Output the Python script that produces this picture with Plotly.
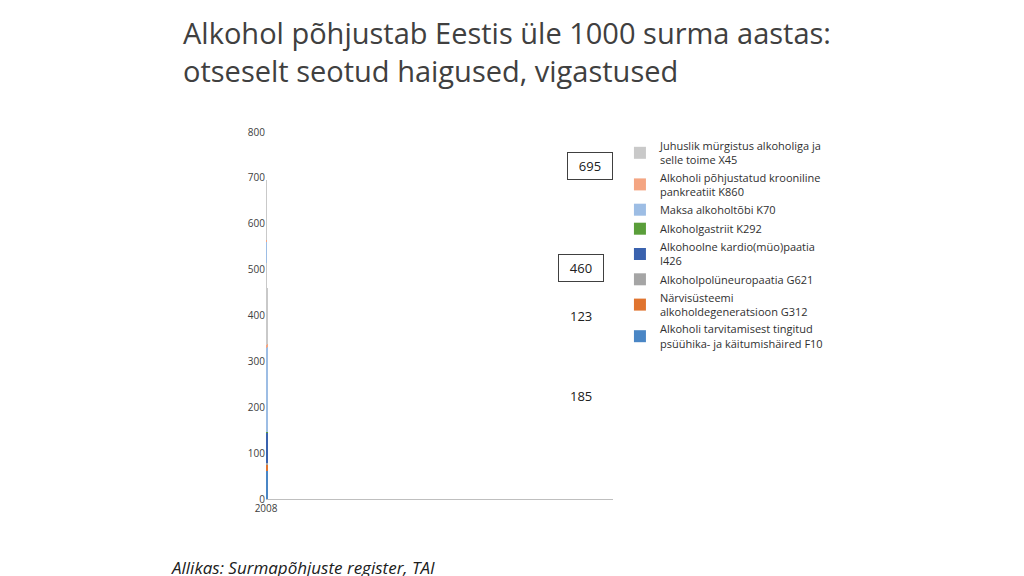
import plotly.graph_objects as go

years = ["2008", "2009", "2010", "2011", "2012", "2013", "2014"]
f10 = [155, 115, 88, 95, 100, 68, 60]
g312 = [20, 13, 7, 20, 18, 22, 15]
g621 = [2, 4, 7, 3, 2, 3, 3]
i426 = [133, 93, 93, 72, 80, 64, 68]
k292 = [1, 1, 1, 1, 1, 1, 1]
k70 = [251, 171, 199, 164, 151, 172, 184]
k860 = [3, 5, 5, 5, 5, 5, 6]
x45 = [130, 113, 98, 125, 146, 108, 123]

series = [
    ("Alkoholi tarvitamisest tingitud<br>psüühika- ja käitumishäired F10", f10, "#4a86c5"),
    ("Närvisüsteemi<br>alkoholdegeneratsioon G312", g312, "#e0742f"),
    ("Alkoholpolüneuropaatia G621", g621, "#a5a5a5"),
    ("Alkohoolne kardio(müo)paatia<br>I426", i426, "#3a62ae"),
    ("Alkoholgastriit K292", k292, "#5a9e3a"),
    ("Maksa alkoholtõbi K70", k70, "#9dbde4"),
    ("Alkoholi põhjustatud krooniline<br>pankreatiit K860", k860, "#f4a582"),
    ("Juhuslik mürgistus alkoholiga ja<br>selle toime X45", x45, "#c9c9c9"),
]

fig = go.Figure()
for i, (name, vals, col) in enumerate(series):
    fig.add_bar(x=years, y=vals, name=name, marker_color=col, marker_line_width=0,
                legendgroup=str(i))

fig.update_layout(
    barmode="stack", bargap=0.38,
    width=1024, height=576, plot_bgcolor="white", paper_bgcolor="white",
    margin=dict(l=258, r=419, t=124, b=85),
    font=dict(family="Open Sans, Calibri, sans-serif", size=11, color="#404040"),
    legend=dict(x=1.02, xanchor="left", y=1.0, yanchor="top", traceorder="reversed",
                tracegroupgap=21, font=dict(size=11, color="#303030")),
    yaxis=dict(range=[0, 800], dtick=100, showgrid=False, showline=False,
               ticks="", tickfont=dict(size=10)),
    xaxis=dict(type="category", showline=True, linecolor="#bfbfbf", tickfont=dict(size=10)),
)
fig.add_annotation(xref="paper", yref="paper", x=-0.245, y=1.33, xanchor="left", yanchor="top",
                   align="left", showarrow=False,
                   text="Alkohol põhjustab Eestis üle 1000 surma aastas:<br>otseselt seotud haigused, vigastused",
                   font=dict(size=29, color="#404040", family="Open Sans, sans-serif"))
fig.add_annotation(x="2008", y=725, text="695", showarrow=False, bordercolor="#404040",
                   borderwidth=1, borderpad=4, xshift=10, font=dict(size=13, color="#202020"), width=36)
fig.add_annotation(x="2014", y=503, text="460", showarrow=False, bordercolor="#404040",
                   borderwidth=1, borderpad=4, font=dict(size=13, color="#202020"), width=36)
fig.add_annotation(x="2014", y=400, text="123", showarrow=False, font=dict(size=13, color="#202020"))
fig.add_annotation(x="2014", y=225, text="185", showarrow=False, font=dict(size=13, color="#202020"))
fig.add_annotation(xref="paper", yref="paper", x=-0.28, y=-0.15, xanchor="left", yanchor="top",
                   text="<i>Allikas: Surmapõhjuste register, TAI</i>", showarrow=False,
                   font=dict(size=17, color="#202020"))
fig.write_html("out.html")
